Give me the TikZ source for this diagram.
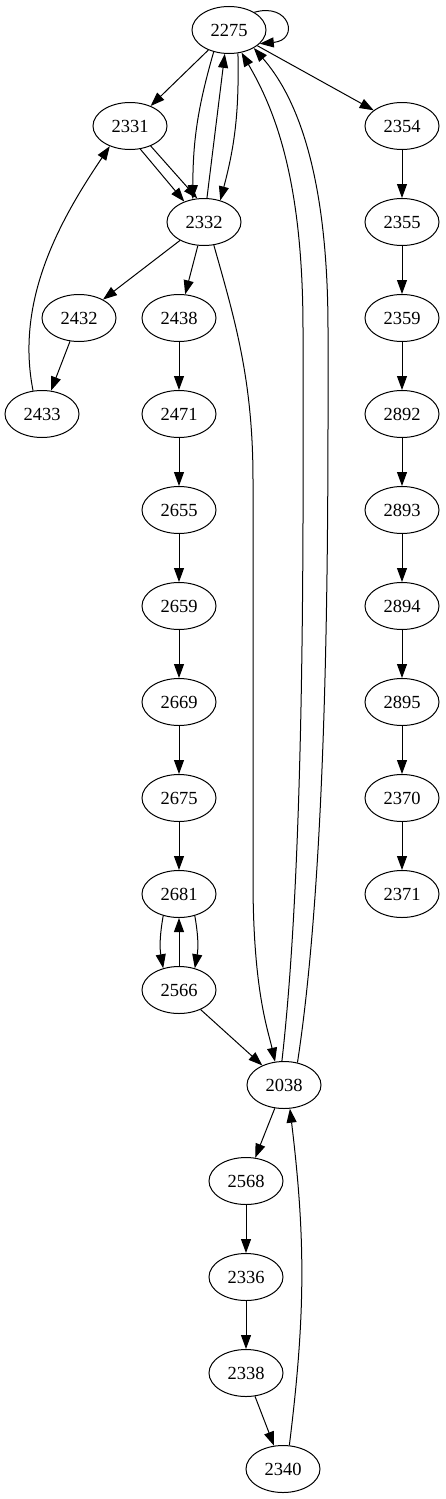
\documentclass[tikz,border=0pt]{standalone}
\usepackage{fontspec}
\setmainfont{Liberation Serif}
\usetikzlibrary{shapes.geometric,arrows.meta}

\begin{document}
\begin{tikzpicture}[>={Triangle[length=14pt,width=10pt]}, line width=1pt, x=1pt, y=1pt,
    vtx/.style={ellipse, draw, minimum width=74pt, minimum height=47pt, inner sep=0pt,
        font=\fontsize{18.5}{20}\selectfont}]
            \useasboundingbox (0,0) rectangle (445,-1499);
            % top part
            \node[vtx] (n2275) at (229,-30) {2275};
            \node[vtx] (n2331) at (130,-126) {2331};
            \node[vtx] (n2332) at (204,-222) {2332};
            \node[vtx] (n2432) at (79,-318) {2432};
            \node[vtx] (n2433) at (42,-414) {2433};
            % middle column
            \node[vtx] (n2438) at (179,-318) {2438};
            \node[vtx] (n2471) at (179,-414) {2471};
            \node[vtx] (n2655) at (179,-510) {2655};
            \node[vtx] (n2659) at (179,-606) {2659};
            \node[vtx] (n2669) at (179,-702) {2669};
            \node[vtx] (n2675) at (179,-798) {2675};
            \node[vtx] (n2681) at (179,-894) {2681};
            \node[vtx] (n2566) at (179,-990) {2566};
            % right column
            \node[vtx] (n2354) at (402,-126) {2354};
            \node[vtx] (n2355) at (402,-222) {2355};
            \node[vtx] (n2359) at (402,-318) {2359};
            \node[vtx] (n2892) at (402,-414) {2892};
            \node[vtx] (n2893) at (402,-510) {2893};
            \node[vtx] (n2894) at (402,-606) {2894};
            \node[vtx] (n2895) at (402,-702) {2895};
            \node[vtx] (n2370) at (402,-798) {2370};
            \node[vtx] (n2371) at (402,-894) {2371};
            % bottom cycle
            \node[vtx] (n2038) at (284,-1085) {2038};
            \node[vtx] (n2568) at (246,-1181) {2568};
            \node[vtx] (n2336) at (246,-1277) {2336};
            \node[vtx] (n2338) at (246,-1373) {2338};
            \node[vtx] (n2340) at (283,-1469) {2340};
            % edges around 2275
            \draw[->] (n2275.35) .. controls (290,-2) and (300,-40) .. (n2275.-24);
            \draw[->] (n2275) -- (n2331);
            \draw[->] (n2275.-125) to[bend right=8] (n2332.116);
            \draw[->] (n2332.83) -- (n2275.-100);
            \draw[->] (n2275.-69) to[bend left=8] (n2332.53);
            \draw[->] (n2275) -- (n2354);
            \draw[->] (n2331.-66) -- (n2332.134);
            \draw[->] (n2331.-44) -- (n2332.106);
            \draw[->] (n2433.111) .. controls (15,-300) and (60,-220) .. (n2331.-135);
            \draw[->] (n2332) -- (n2432);
            \draw[->] (n2332) -- (n2438);
            \draw[->] (n2432) -- (n2433);
            \draw[->] (n2332.-67) .. controls (235,-320) and (253,-380) .. (253,-480)
                -- (253,-880) .. controls (253,-990) and (268,-1030) .. (n2038.111);
            \draw[->] (n2038.95) .. controls (306,-850) and (303,-500) .. (303,-330)
                .. controls (303,-180) and (275,-110) .. (n2275.-61);
            \draw[->] (n2038.59) .. controls (330,-850) and (328,-500) .. (328,-330)
                .. controls (328,-170) and (295,-95) .. (n2275.-36);
            % middle chain
            \draw[->] (n2438) -- (n2471);
            \draw[->] (n2471) -- (n2655);
            \draw[->] (n2655) -- (n2659);
            \draw[->] (n2659) -- (n2669);
            \draw[->] (n2669) -- (n2675);
            \draw[->] (n2675) -- (n2681);
            \draw[->] (n2681.-126) to[bend right=10] (n2566.126);
            \draw[->] (n2566) -- (n2681);
            \draw[->] (n2681.-54) to[bend left=10] (n2566.54);
            \draw[->] (n2566) -- (n2038);
            % right chain
            \draw[->] (n2354) -- (n2355);
            \draw[->] (n2355) -- (n2359);
            \draw[->] (n2359) -- (n2892);
            \draw[->] (n2892) -- (n2893);
            \draw[->] (n2893) -- (n2894);
            \draw[->] (n2894) -- (n2895);
            \draw[->] (n2895) -- (n2370);
            \draw[->] (n2370) -- (n2371);
            % bottom cycle
            \draw[->] (n2038) -- (n2568);
            \draw[->] (n2568) -- (n2336);
            \draw[->] (n2336) -- (n2338);
            \draw[->] (n2338) -- (n2340);
            \draw[->] (n2340.75) to[bend right=7] (n2038.-76);
        \end{tikzpicture}
\end{document}
